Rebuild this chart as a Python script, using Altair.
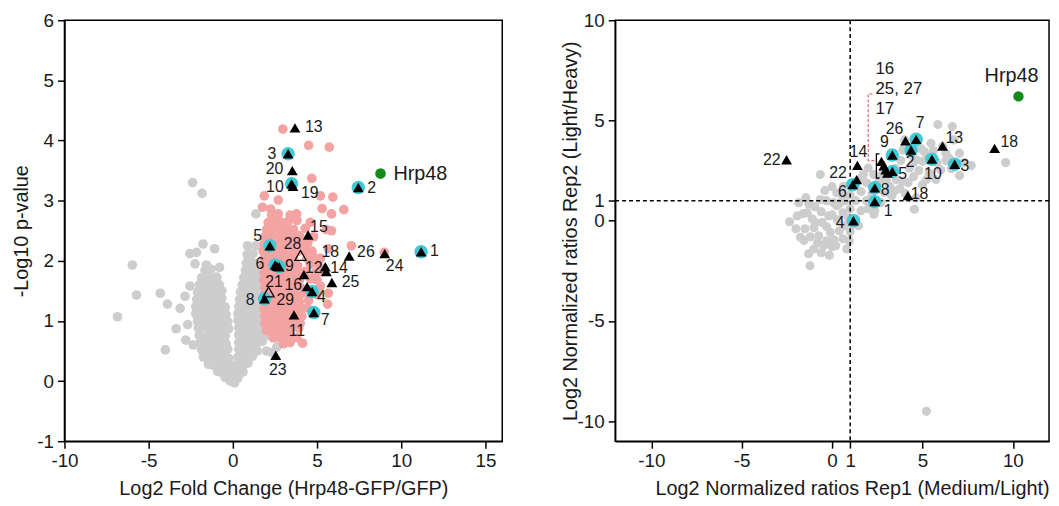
import altair as alt
import pandas as pd

FONT = "Liberation Sans"
INK = "#1a1a1a"
GRAY = "#cdcdcd"
PINK = "#f4a3a3"
CYAN = "#3fcad6"
GREEN = "#15891a"

# ---------------- LEFT PANEL DATA (volcano) ----------------
left_gray = [
    (-0.45, 0.06), (-0.15, 0.0), (0.1, -0.03), (0.3, 0.05),
    (-0.9, 0.16), (-0.6, 0.13), (-0.3, 0.17), (0.0, 0.14), (0.3, 0.18), (0.6, 0.15),
    (-1.45, 0.28), (-1.15, 0.26), (-0.85, 0.29), (-0.55, 0.27), (-0.25, 0.3), (0.05, 0.26), (0.35, 0.29), (0.65, 0.27), (0.9, 0.3),
    (-1.75, 0.4), (-1.45, 0.38), (-1.15, 0.42), (-0.85, 0.4), (-0.5, 0.41), (-0.25, 0.38), (0.3, 0.4), (0.6, 0.42), (0.9, 0.39), (1.15, 0.41),
    (-1.85, 0.52), (-1.55, 0.5), (-1.25, 0.54), (-0.95, 0.52), (-0.65, 0.5), (-0.3, 0.53), (0.35, 0.53), (0.6, 0.5), (0.9, 0.55), (1.15, 0.52), (1.45, 0.5),
    (-1.95, 0.64), (-1.65, 0.62), (-1.35, 0.66), (-1.05, 0.63), (-0.75, 0.65), (-0.4, 0.62), (0.35, 0.64), (0.6, 0.66), (0.9, 0.62), (1.15, 0.65), (1.45, 0.63), (1.75, 0.66),
    (-2.0, 0.76), (-1.7, 0.74), (-1.4, 0.78), (-1.1, 0.75), (-0.8, 0.77), (-0.45, 0.75), (0.35, 0.77), (0.6, 0.74), (0.9, 0.78), (1.15, 0.75), (1.45, 0.77), (1.75, 0.74), (2.1, 0.76),
    (-2.05, 0.88), (-1.75, 0.9), (-1.45, 0.87), (-1.15, 0.89), (-0.85, 0.88), (-0.5, 0.9), (-0.25, 0.87), (0.35, 0.89), (0.6, 0.87), (0.9, 0.9), (1.15, 0.88), (1.45, 0.9), (1.75, 0.87),
    (-2.1, 1.0), (-1.8, 1.02), (-1.5, 0.99), (-1.2, 1.01), (-0.9, 1.0), (-0.6, 1.02), (-0.3, 0.99), (0.3, 1.01), (0.55, 1.0), (0.85, 1.02), (1.15, 0.99), (1.45, 1.01),
    (-2.2, 1.12), (-1.9, 1.14), (-1.6, 1.11), (-1.3, 1.13), (-1.0, 1.12), (-0.7, 1.14), (-0.4, 1.11), (0.3, 1.12), (0.6, 1.14), (0.9, 1.11), (1.2, 1.13), (1.5, 1.12),
    (-2.2, 1.24), (-1.9, 1.26), (-1.6, 1.23), (-1.3, 1.25), (-1.0, 1.24), (-0.7, 1.26), (-0.45, 1.23), (0.35, 1.24), (0.65, 1.26), (0.95, 1.23), (1.25, 1.25), (1.55, 1.24),
    (-2.15, 1.36), (-1.85, 1.38), (-1.55, 1.35), (-1.25, 1.37), (-0.95, 1.36), (-0.65, 1.38), (0.4, 1.36), (0.7, 1.38), (1.0, 1.35), (1.3, 1.37), (1.6, 1.36),
    (-2.1, 1.48), (-1.8, 1.5), (-1.5, 1.47), (-1.2, 1.49), (-0.9, 1.48), (-0.65, 1.5), (0.45, 1.48), (0.75, 1.5), (1.05, 1.47), (1.35, 1.49), (1.65, 1.48),
    (-2.0, 1.6), (-1.7, 1.62), (-1.4, 1.59), (-1.1, 1.61), (-0.8, 1.6), (0.55, 1.6), (0.85, 1.62), (1.15, 1.59), (1.45, 1.61),
    (-1.85, 1.72), (-1.5, 1.74), (-1.2, 1.71), (-0.95, 1.73), (0.65, 1.72), (0.95, 1.74), (1.25, 1.71), (1.55, 1.73),
    (-1.65, 1.84), (-1.3, 1.86), (0.75, 1.84), (1.05, 1.86), (1.35, 1.83),
    (0.8, 1.96), (1.1, 1.98), (1.4, 1.95),
    (0.85, 2.1), (1.2, 2.12),
    (-2.39, 3.30), (-1.83, 3.12), (1.37, 2.78), (0.87, 2.25), (1.37, 2.25),
    (-1.77, 2.28), (-1.08, 2.20), (-2.55, 2.12), (-2.16, 2.14), (-2.25, 1.95),
    (-1.57, 1.93), (-0.79, 1.89), (-5.97, 1.93), (-2.55, 1.58), (-2.84, 1.41),
    (-5.72, 1.43), (-4.31, 1.46), (-3.88, 1.28), (-3.13, 1.21), (-6.85, 1.07),
    (-3.37, 0.87), (-2.68, 0.94), (-2.80, 0.68), (-4.01, 0.52), (-2.35, 0.60),
    (2.75, 0.69), (2.34, 0.47), (2.0, 0.5), (2.6, 0.56),
]

left_pink = [
    (2.97, 4.19), (4.50, 3.92), (5.73, 3.89), (4.69, 3.37), (1.87, 3.08), (2.70, 3.01),
    (5.20, 3.08), (5.94, 3.06), (5.30, 2.87), (5.86, 2.78), (6.59, 2.85), (1.76, 2.89),
    (2.25, 2.86), (3.79, 2.78), (3.81, 2.67), (7.04, 2.25), (5.67, 2.20), (5.86, 2.50),
    (5.55, 2.52), (5.63, 1.28), (5.67, 1.46), (4.14, 0.63), (3.91, 0.88), (9.0, 2.14),
    (3.0, 0.62), (3.4, 0.64),
    (2.4, 0.72), (2.75, 0.74), (3.1, 0.72), (3.45, 0.75), (3.8, 0.72),
    (2.0, 0.84), (2.35, 0.86), (2.7, 0.84), (3.05, 0.86), (3.4, 0.84),
    (1.9, 0.96), (2.25, 0.98), (2.6, 0.96), (2.95, 0.98), (3.3, 0.96), (3.65, 0.98), (4.0, 0.96),
    (1.9, 1.08), (2.25, 1.1), (2.6, 1.08), (2.95, 1.1), (3.3, 1.08), (3.7, 1.1), (4.1, 1.08),
    (1.85, 1.2), (2.2, 1.22), (2.55, 1.2), (2.9, 1.22), (3.25, 1.2), (3.6, 1.22), (4.0, 1.2), (4.4, 1.22),
    (1.85, 1.32), (2.2, 1.34), (2.55, 1.32), (2.9, 1.34), (3.25, 1.32), (3.6, 1.34), (3.95, 1.32), (4.5, 1.34),
    (1.9, 1.44), (2.25, 1.46), (2.6, 1.44), (2.95, 1.46), (3.3, 1.44), (3.65, 1.46), (4.0, 1.44), (4.4, 1.46), (5.0, 1.44),
    (1.9, 1.56), (2.25, 1.58), (2.6, 1.56), (2.95, 1.58), (3.3, 1.56), (3.65, 1.58), (4.0, 1.56), (5.2, 1.58),
    (1.85, 1.68), (2.2, 1.7), (2.55, 1.68), (2.9, 1.7), (3.25, 1.68), (3.6, 1.7), (3.95, 1.68), (4.6, 1.7), (5.0, 1.68),
    (1.85, 1.8), (2.2, 1.82), (2.55, 1.8), (2.9, 1.82), (3.25, 1.8), (3.6, 1.82), (3.9, 1.8), (4.3, 1.82), (4.9, 1.8), (5.3, 1.82),
    (1.85, 1.92), (2.2, 1.94), (2.55, 1.92), (2.9, 1.94), (3.2, 1.92), (3.5, 1.94), (3.85, 1.92), (4.6, 1.94), (5.1, 1.92),
    (1.85, 2.04), (2.2, 2.06), (2.55, 2.04), (2.9, 2.06), (3.25, 2.04), (3.6, 2.06), (4.4, 2.04), (4.8, 2.06), (5.2, 2.04),
    (1.8, 2.16), (2.15, 2.18), (2.5, 2.16), (2.85, 2.18), (3.2, 2.16), (3.55, 2.18), (3.9, 2.16), (4.3, 2.18), (4.7, 2.16),
    (1.85, 2.28), (2.2, 2.3), (2.55, 2.28), (2.9, 2.3), (3.3, 2.28), (3.7, 2.3), (4.05, 2.28), (4.45, 2.3),
    (1.9, 2.4), (2.3, 2.42), (2.7, 2.4), (3.1, 2.42), (3.5, 2.4), (3.95, 2.42), (4.8, 2.4),
    (2.0, 2.52), (2.4, 2.54), (2.8, 2.52), (3.2, 2.54), (3.6, 2.52), (4.3, 2.54),
    (2.1, 2.64), (2.5, 2.66), (2.9, 2.64), (3.3, 2.66), (4.6, 2.64),
    (2.3, 2.76), (2.7, 2.78), (3.4, 2.76),
]

left_hit_ids = ["1", "2", "3", "4", "5", "6", "7", "8", "9", "10", "11", "12",
                "13", "14", "15", "16", "18", "19", "20", "21", "23", "24", "25", "26"]
left_hit_x = [11.18, 7.45, 3.28, 4.71, 2.20, 2.51, 4.81, 1.88, 2.75, 3.49, 3.63, 4.22,
              3.69, 5.55, 4.47, 4.41, 5.49, 3.57, 3.53, 2.62, 2.55, 9.02, 5.88, 6.91]
left_hit_y = [2.15, 3.22, 3.78, 1.49, 2.25, 1.93, 1.14, 1.37, 1.90, 3.28, 1.10, 1.77,
              4.21, 1.82, 2.43, 1.57, 1.90, 3.24, 3.50, 1.91, 0.43, 2.12, 1.64, 2.08]
left_cyan_ids = ["1", "2", "3", "4", "5", "6", "7", "8", "9", "10"]
left_open_ids = ["28", "29"]
left_open_x = [4.02, 2.12]
left_open_y = [2.09, 1.48]
left_hrp48 = [8.77, 3.45]

# ---------------- RIGHT PANEL DATA (replicates) ----------------
right_gray = [
    (-2.35, -0.05), (-1.93, 0.24), (-1.84, 0.90), (-1.29, 0.82), (-1.75, -0.83), (-1.56, -0.99),
    (-1.22, -2.25), (-0.74, -0.75), (-1.01, -1.41), (-0.47, -1.24), (-0.15, -1.73), (-0.56, -0.09),
    (-0.10, -0.58), (0.08, 0.90), (-0.65, 1.06), (-0.65, 2.30), (-1.38, 0.40), (-0.93, -0.09),
    (-0.19, 0.24), (0.26, 0.74), (0.26, 1.39), (0.63, 1.72), (0.44, 0.90), (0.81, -1.41),
    (1.47, -0.25), (2.31, 0.32), (1.91, 1.89), (1.73, 2.30), (2.00, 2.63), (2.36, 0.49),
    (2.45, 1.72), (3.18, 1.72), (3.55, 2.05), (3.92, 1.97), (4.55, 0.57), (4.65, 1.15),
    (4.28, 2.63), (4.65, 3.04), (5.01, 2.96), (5.10, 3.45), (5.47, 3.86), (5.85, 4.80),
    (6.11, 3.70), (6.47, 3.12), (6.75, 4.03), (3.92, 3.53), (4.01, 4.03), (5.37, 2.38),
    (6.01, 2.54), (5.74, 2.05), (6.65, 4.70), (9.60, 2.90), (7.05, 3.37), (7.70, 2.75),
    (7.05, 2.25), (3.44, 1.48), (5.22, 2.05), (5.22, -9.51), (6.29, 3.37),
    (0.0, 0.3), (0.3, 0.05), (0.6, 0.4), (0.9, 0.15), (0.7, -0.25), (0.4, -0.5), (0.1, -0.95),
    (-0.3, -0.3), (-0.6, 0.45), (-0.95, 0.7), (0.2, -1.25), (0.6, -0.9), (1.0, -0.55),
    (1.3, 0.1), (1.6, 0.5), (1.0, 0.6), (0.7, 1.0), (1.0, 1.3), (1.3, 1.0), (1.6, 1.45),
    (1.9, 1.0), (2.0, 0.6), (2.2, 1.3), (2.7, 0.9), (2.9, 1.4), (2.6, 1.95), (3.0, 2.0),
    (2.75, 2.3), (3.3, 1.25), (3.75, 1.6), (4.05, 1.35), (4.2, 1.9), (4.5, 2.2), (4.8, 2.5),
    (5.0, 1.8), (4.5, 2.9), (4.3, 3.3), (4.9, 3.6), (5.3, 3.2), (5.6, 3.5), (5.8, 2.9),
    (6.3, 3.0), (6.6, 2.6), (7.3, 2.9), (3.5, 2.6), (3.8, 3.0), (2.3, 2.3), (1.6, 2.1),
    (1.3, 1.75), (-0.3, 1.0), (-0.4, 1.5), (0.0, 1.7), (0.5, 1.35), (-1.1, 0.1), (-1.5, -0.4),
    (-1.2, -0.8), (-0.8, -1.1), (-1.3, -1.65), (-0.6, -1.6), (-0.3, -1.0), (0.0, -1.3),
    (-1.6, 0.35), (-2.0, -0.4), (-1.0, -0.35), (-1.45, 1.15), (0.95, -1.0), (1.2, -0.2),
]

right_hit_ids = ["1", "2", "3", "4", "5", "6", "7", "8", "9", "10", "13", "14",
                 "18", "18", "22", "22", "26", "16", "25", "27", "17"]
right_hit_x = [2.36, 4.37, 6.78, 1.18, 3.33, 1.14, 4.65, 2.36, 3.33, 5.52, 6.11, 1.40,
               8.99, 4.19, -2.52, 1.36, 4.06, 2.73, 2.86, 2.97, 3.06]
right_hit_y = [0.95, 3.53, 2.82, 0.00, 2.46, 1.80, 4.06, 1.64, 3.28, 3.07, 3.73, 2.76,
               3.61, 1.26, 3.04, 2.05, 3.99, 2.96, 2.74, 2.54, 2.38]
right_cyan_ids = ["1", "2", "3", "4", "5", "6", "7", "8", "9", "10"]
right_hrp48 = [10.31, 6.20]
right_group_labels = ["16", "25, 27", "17"]
right_group_label_x = [2.4, 2.4, 2.4]
right_group_label_y = [7.57, 6.58, 5.59]
bracket_x = [2.62, 2.45, 2.45, 2.62]
bracket_y = [3.33, 3.33, 2.13, 2.13]
connector_x = [2.24, 2.0, 2.0, 2.42]
connector_y = [6.33, 6.33, 3.0, 3.0]

# ---------------- label placement (style) ----------------
LEFT_LABEL_STYLE = {
    "1": ("left", 9, -1), "2": ("left", 9, 1), "3": ("right", -12, 0), "4": ("left", 5, 6),
    "5": ("right", -8, -10), "6": ("right", -11, -1), "7": ("left", 7, 8), "8": ("right", -10, 1),
    "9": ("left", 6, -1), "10": ("right", -8, 3), "11": ("center", 3, 16), "12": ("left", 1, -7),
    "13": ("left", 10, -1), "14": ("left", 4, -4), "15": ("left", 2, -8), "16": ("right", -5, -2),
    "18": ("center", 5, -15), "19": ("left", 8, 7), "20": ("right", -9, -2), "21": ("center", -3, 16),
    "23": ("center", 2, 15), "24": ("center", 10, 13), "25": ("left", 10, 0), "26": ("left", 8, -4),
    "28": ("center", -8, -11), "29": ("left", 8, 8),
}
RIGHT_LABEL_STYLE = [
    ("left", 9, 9), ("center", -1, 12), ("left", 6, 2), ("right", -9, 2), ("left", 6, 3),
    ("right", -6, 7), ("center", 4, -16), ("left", 6, 2), ("center", -8, -13), ("center", 1, 15),
    ("left", 3, -8), ("center", 1, -13), ("left", 6, -6), ("left", 3, -1), ("right", -6, 0),
    ("right", -10, -7), ("center", -11, -12), None, None, None, None,
]


def enc_left():
    return dict(
        x=alt.X("x:Q", scale=alt.Scale(domain=[-10, 16], nice=False, zero=False),
                axis=alt.Axis(values=[-10, -5, 0, 5, 10, 15], labelExpr="toString(datum.value)",
                              title="Log2 Fold Change (Hrp48-GFP/GFP)", titlePadding=8)),
        y=alt.Y("y:Q", scale=alt.Scale(domain=[-1, 6], nice=False, zero=False),
                axis=alt.Axis(values=[-1, 0, 1, 2, 3, 4, 5, 6], labelExpr="toString(datum.value)",
                              title="-Log10 p-value", titlePadding=5)),
    )


def enc_right():
    return dict(
        x=alt.X("x:Q", scale=alt.Scale(domain=[-12, 12], nice=False, zero=False),
                axis=alt.Axis(values=[-10, -5, 0, 1, 5, 10], labelExpr="toString(datum.value)",
                              title="Log2 Normalized ratios Rep1 (Medium/Light)",
                              titleAnchor="end", titlePadding=8)),
        y=alt.Y("y:Q", scale=alt.Scale(domain=[-11, 10], nice=False, zero=False),
                axis=alt.Axis(values=[-10, -5, 0, 1, 5, 10], labelExpr="toString(datum.value)",
                              title="Log2 Normalized ratios Rep2 (Light/Heavy)", titlePadding=-3)),
    )


def pairs_df(pairs):
    return pd.DataFrame(pairs, columns=["x", "y"])


def text_layers(xs, ys, texts, styles, enc_fn, size=16):
    out = []
    for x, y, t, st in zip(xs, ys, texts, styles):
        if st is None:
            continue
        align, dx, dy = st
        df = pd.DataFrame({"x": [x], "y": [y], "t": [t]})
        out.append(alt.Chart(df).mark_text(align=align, baseline="middle", dx=dx, dy=dy,
                                           font=FONT, fontSize=size, color=INK)
                   .encode(text="t:N", **enc_fn()))
    return out


# ---------------- left panel ----------------
lh = pd.DataFrame({"id": left_hit_ids, "x": left_hit_x, "y": left_hit_y})
lcy = lh[lh["id"].isin(left_cyan_ids)]
lo = pd.DataFrame({"id": left_open_ids, "x": left_open_x, "y": left_open_y})
lg = pd.DataFrame({"x": [left_hrp48[0]], "y": [left_hrp48[1]], "t": ["Hrp48"]})

left_layers = [
    alt.Chart(pairs_df(left_gray)).mark_circle(color=GRAY, size=95, opacity=1).encode(**enc_left()),
    alt.Chart(pairs_df(left_pink)).mark_circle(color=PINK, size=95, opacity=1).encode(**enc_left()),
    alt.Chart(lcy).mark_circle(color=CYAN, size=185, opacity=1).encode(**enc_left()),
    alt.Chart(lh).mark_point(shape="triangle-up", filled=True, color="black", size=120, opacity=1).encode(**enc_left()),
    alt.Chart(lo).mark_point(shape="triangle-up", filled=False, color="black", strokeWidth=1.3, size=130, opacity=1).encode(**enc_left()),
    alt.Chart(lg).mark_circle(color=GREEN, size=115, opacity=1).encode(**enc_left()),
    alt.Chart(lg).mark_text(align="left", baseline="middle", dx=13, font=FONT, fontSize=20, color=INK).encode(text="t:N", **enc_left()),
]
left_layers += text_layers(left_hit_x, left_hit_y, left_hit_ids,
                           [LEFT_LABEL_STYLE[i] for i in left_hit_ids], enc_left)
left_layers += text_layers(left_open_x, left_open_y, left_open_ids,
                           [LEFT_LABEL_STYLE[i] for i in left_open_ids], enc_left)
left = alt.layer(*left_layers).properties(width=442, height=425)

# ---------------- right panel ----------------
rh = pd.DataFrame({"id": right_hit_ids, "x": right_hit_x, "y": right_hit_y})
rcy = rh[rh["id"].isin(right_cyan_ids)]
rg = pd.DataFrame({"x": [right_hrp48[0]], "y": [right_hrp48[1]], "t": ["Hrp48"]})
vline = pd.DataFrame({"x": [1]})
hline = pd.DataFrame({"y": [1]})
brk = pd.DataFrame({"x": bracket_x, "y": bracket_y, "o": list(range(len(bracket_x)))})
con = pd.DataFrame({"x": connector_x, "y": connector_y, "o": list(range(len(connector_x)))})
grp = pd.DataFrame({"x": right_group_label_x, "y": right_group_label_y, "t": right_group_labels})

er = enc_right()
right_layers = [
    alt.Chart(pairs_df(right_gray)).mark_circle(color=GRAY, size=85, opacity=1).encode(**enc_right()),
    alt.Chart(vline).mark_rule(color="black", strokeWidth=1.5, strokeDash=[4, 3]).encode(x=er["x"]),
    alt.Chart(hline).mark_rule(color="black", strokeWidth=1.5, strokeDash=[4, 3]).encode(y=er["y"]),
    alt.Chart(rcy).mark_circle(color=CYAN, size=185, opacity=1).encode(**enc_right()),
    alt.Chart(rh).mark_point(shape="triangle-up", filled=True, color="black", size=120, opacity=1).encode(**enc_right()),
    alt.Chart(brk).mark_line(color="black", strokeWidth=1.3).encode(order="o:Q", **enc_right()),
    alt.Chart(con).mark_line(color="#e07070", strokeWidth=1.3, strokeDash=[3, 2]).encode(order="o:Q", **enc_right()),
    alt.Chart(grp).mark_text(align="left", baseline="middle", font=FONT, fontSize=17, color=INK).encode(text="t:N", **enc_right()),
    alt.Chart(rg).mark_circle(color=GREEN, size=110, opacity=1).encode(**enc_right()),
    alt.Chart(rg).mark_text(align="center", baseline="middle", dx=-7, dy=-21, font=FONT, fontSize=20, color=INK).encode(text="t:N", **enc_right()),
]
right_layers += text_layers(right_hit_x, right_hit_y, right_hit_ids, RIGHT_LABEL_STYLE, enc_right)
right = alt.layer(*right_layers).properties(width=438, height=425)

chart = (
    alt.hconcat(left, right, spacing=56)
    .properties(padding={"left": 3, "top": 0, "right": 0, "bottom": 0})
    .configure_view(stroke="black", strokeWidth=1.5)
    .configure_axis(
        grid=False, domainColor="black", domainWidth=1.5, tickColor="black", tickWidth=1.5,
        tickSize=7, labelFont=FONT, labelFontSize=19, labelColor=INK, labelPadding=4,
        labelOverlap=False, labelFlush=False,
        titleFont=FONT, titleFontSize=20, titleFontWeight="normal", titleColor=INK,
    )
)

chart.save("out.html", embed_options={"renderer": "svg", "actions": False})
